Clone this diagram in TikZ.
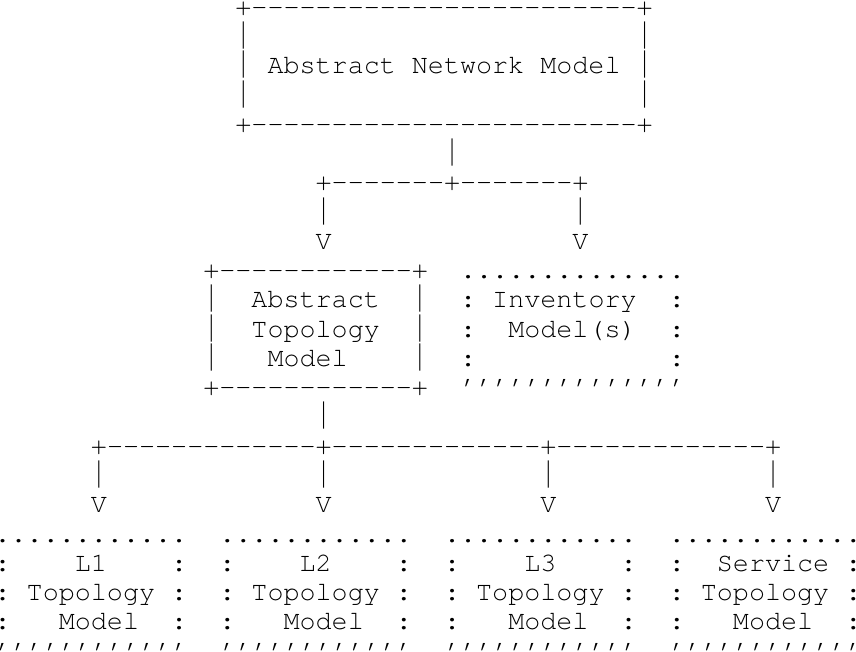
\documentclass[tikz,border=0pt]{standalone}
\usepackage{fontspec}
\usepackage{graphicx}
\setmonofont{TeX Gyre Cursor}

\newcommand{\chw}{6pt}
\newcommand{\rowh}{10.94pt}
\newcommand{\tallbar}{\scalebox{1}[1.4]{|}}
\tikzset{ascii/.style={font=\ttfamily\fontsize{10pt}{10pt}\selectfont,inner sep=0pt,outer sep=0pt,anchor=base west}}

\begin{document}
\begin{tikzpicture}
	\useasboundingbox (2pt,5.7pt) rectangle (322pt,-238pt);

	% Abstract Network Model
	\node (net-top) at (15*\chw,0pt) [ascii] {+------------------------+};
	\node (net-l1) at (15*\chw,-1*\rowh) [ascii] {\tallbar};
	\node (net-r1) at (40*\chw,-1*\rowh) [ascii] {\tallbar};
	\node (net-label) at (15*\chw,-2*\rowh) [ascii] {\tallbar{} Abstract Network Model \tallbar};
	\node (net-l3) at (15*\chw,-3*\rowh) [ascii] {\tallbar};
	\node (net-r3) at (40*\chw,-3*\rowh) [ascii] {\tallbar};
	\node (net-bottom) at (15*\chw,-4*\rowh) [ascii] {+------------------------+};

	% first fork
	\node (net-stem) at (28*\chw,-5*\rowh) [ascii] {\tallbar};
	\node (fork-a) at (20*\chw,-6*\rowh) [ascii] {+-------+-------+};
	\node (fork-a-l) at (20*\chw,-7*\rowh) [ascii] {\tallbar};
	\node (fork-a-r) at (36*\chw,-7*\rowh) [ascii] {\tallbar};
	\node (fork-a-lv) at (20*\chw,-8*\rowh) [ascii] {V};
	\node (fork-a-rv) at (36*\chw,-8*\rowh) [ascii] {V};

	% Abstract Topology Model
	\node (topo-top) at (13*\chw,-9*\rowh) [ascii] {+------------+};
	\node (topo-1) at (13*\chw,-10*\rowh) [ascii] {\tallbar~~Abstract~~\tallbar};
	\node (topo-2) at (13*\chw,-11*\rowh) [ascii] {\tallbar~~Topology~~\tallbar};
	\node (topo-3) at (13*\chw,-12*\rowh) [ascii] {\tallbar~~~Model~~~~\tallbar};
	\node (topo-bottom) at (13*\chw,-13*\rowh) [ascii] {+------------+};

	% Inventory Model(s)
	\node (inv-top) at (29*\chw,-9*\rowh) [ascii] {..............};
	\node (inv-1) at (29*\chw,-10*\rowh) [ascii] {:~Inventory~~:};
	\node (inv-2) at (29*\chw,-11*\rowh) [ascii] {:~~Model(s)~~:};
	\node (inv-l3) at (29*\chw,-12*\rowh) [ascii] {:};
	\node (inv-r3) at (42*\chw,-12*\rowh) [ascii] {:};
	\node (inv-bottom) at (29*\chw,-13*\rowh) [ascii] {’’’’’’’’’’’’’’};

	% second fork
	\node (topo-stem) at (20*\chw,-14*\rowh) [ascii] {\tallbar};
	\node (fork-b) at (6*\chw,-15*\rowh) [ascii] {+-------------+-------------+-------------+};
	\node (fork-b-1) at (6*\chw,-16*\rowh) [ascii] {\tallbar};
	\node (fork-b-2) at (20*\chw,-16*\rowh) [ascii] {\tallbar};
	\node (fork-b-3) at (34*\chw,-16*\rowh) [ascii] {\tallbar};
	\node (fork-b-4) at (48*\chw,-16*\rowh) [ascii] {\tallbar};
	\node (fork-b-1v) at (6*\chw,-17*\rowh) [ascii] {V};
	\node (fork-b-2v) at (20*\chw,-17*\rowh) [ascii] {V};
	\node (fork-b-3v) at (34*\chw,-17*\rowh) [ascii] {V};
	\node (fork-b-4v) at (48*\chw,-17*\rowh) [ascii] {V};

	% L1 Topology Model
	\node (l1-top) at (0pt,-18*\rowh) [ascii] {............};
	\node (l1-1) at (0pt,-19*\rowh) [ascii] {:~~~~L1~~~~:};
	\node (l1-2) at (0pt,-20*\rowh) [ascii] {:~Topology~:};
	\node (l1-3) at (0pt,-21*\rowh) [ascii] {:~~~Model~~:};
	\node (l1-bottom) at (0pt,-22*\rowh) [ascii] {’’’’’’’’’’’’};

	% L2 Topology Model
	\node (l2-top) at (14*\chw,-18*\rowh) [ascii] {............};
	\node (l2-1) at (14*\chw,-19*\rowh) [ascii] {:~~~~L2~~~~:};
	\node (l2-2) at (14*\chw,-20*\rowh) [ascii] {:~Topology~:};
	\node (l2-3) at (14*\chw,-21*\rowh) [ascii] {:~~~Model~~:};
	\node (l2-bottom) at (14*\chw,-22*\rowh) [ascii] {’’’’’’’’’’’’};

	% L3 Topology Model
	\node (l3-top) at (28*\chw,-18*\rowh) [ascii] {............};
	\node (l3-1) at (28*\chw,-19*\rowh) [ascii] {:~~~~L3~~~~:};
	\node (l3-2) at (28*\chw,-20*\rowh) [ascii] {:~Topology~:};
	\node (l3-3) at (28*\chw,-21*\rowh) [ascii] {:~~~Model~~:};
	\node (l3-bottom) at (28*\chw,-22*\rowh) [ascii] {’’’’’’’’’’’’};

	% Service Topology Model
	\node (svc-top) at (42*\chw,-18*\rowh) [ascii] {............};
	\node (svc-1) at (42*\chw,-19*\rowh) [ascii] {:~~Service~:};
	\node (svc-2) at (42*\chw,-20*\rowh) [ascii] {:~Topology~:};
	\node (svc-3) at (42*\chw,-21*\rowh) [ascii] {:~~~Model~~:};
	\node (svc-bottom) at (42*\chw,-22*\rowh) [ascii] {’’’’’’’’’’’’};

\end{tikzpicture}
\end{document}
